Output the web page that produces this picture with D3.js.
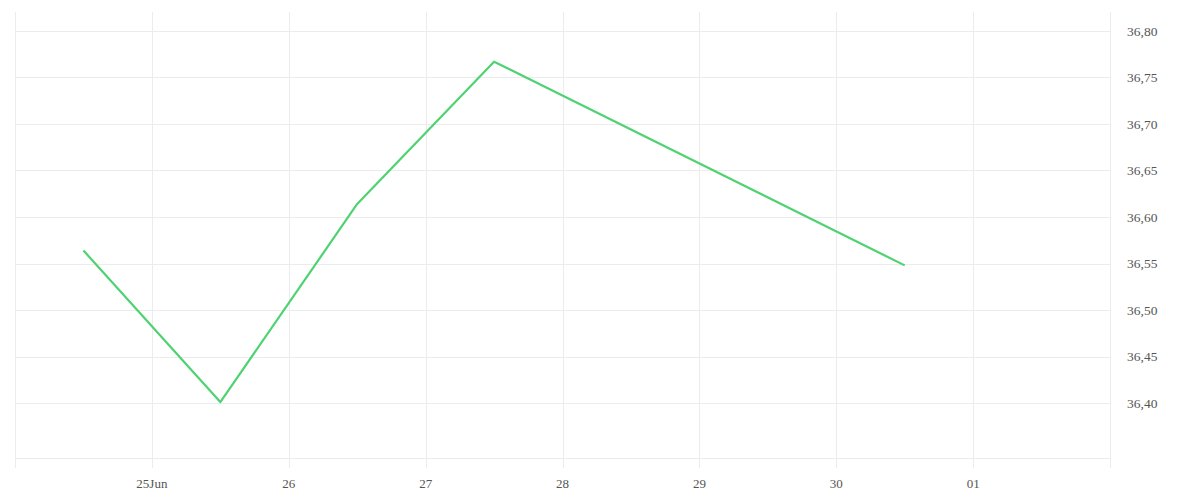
<!DOCTYPE html>
<html><head><meta charset="utf-8">
<script src="https://cdn.jsdelivr.net/npm/d3@7"></script>
<style>body{margin:0;background:#fff}svg{display:block}</style>
</head><body><svg id="c" width="1200" height="500"></svg>
<script>
const dates = ["2023-06-24T12:00","2023-06-25T12:00","2023-06-26T12:00","2023-06-27T12:00","2023-06-30T12:00"];
const values = [36.564, 36.401, 36.614, 36.767, 36.548];
const yTicks = [36.40, 36.45, 36.50, 36.55, 36.60, 36.65, 36.70, 36.75, 36.80];
const xTickDates = ["2023-06-25","2023-06-26","2023-06-27","2023-06-28","2023-06-29","2023-06-30","2023-07-01"];
const xTickLabels = ["25Jun","26","27","28","29","30","01"];

const parse = d3.timeParse("%Y-%m-%dT%H:%M");
const parseD = d3.timeParse("%Y-%m-%d");
const L=15,R=1110,T=12,B=458;
const x = d3.scaleTime().domain([parseD("2023-06-24"), parseD("2023-07-02")]).range([L,R]);
const y = d3.scaleLinear().domain([36.3409, 36.8204]).range([B,T]);
const svg = d3.select("#c");
const grid = "#ececec";

svg.append("g").selectAll("line").data(yTicks.concat([36.3409])).join("line")
  .attr("x1",L).attr("x2",R).attr("y1",d=>Math.round(y(d))+0.5).attr("y2",d=>Math.round(y(d))+0.5)
  .attr("stroke",grid).attr("stroke-width",1);
const xt = xTickDates.map(parseD);
svg.append("g").selectAll("line").data(xt).join("line")
  .attr("x1",d=>Math.round(x(d))+0.5).attr("x2",d=>Math.round(x(d))+0.5).attr("y1",T).attr("y2",468)
  .attr("stroke",grid);
[L,R].forEach(v=>svg.append("line").attr("x1",v+0.5).attr("x2",v+0.5).attr("y1",T).attr("y2",468).attr("stroke",grid));

svg.append("g").selectAll("text").data(xt).join("text")
  .attr("x",d=>x(d)).attr("y",488).attr("text-anchor","middle")
  .attr("font-family","Liberation Serif, serif").attr("font-size",13).attr("fill","#555")
  .text((d,i)=>xTickLabels[i]);
svg.append("g").selectAll("text").data(yTicks).join("text")
  .attr("x",1127).attr("y",d=>y(d)).attr("dy","0.35em")
  .attr("font-family","Liberation Serif, serif").attr("font-size",13.5).attr("fill","#555")
  .text(d=>d3.format(".2f")(d).replace(".",","));

const line = d3.line().x((d,i)=>x(parse(dates[i]))).y(d=>y(d));
svg.append("path").datum(values).attr("d",line).attr("fill","none")
  .attr("stroke","#4fd272").attr("stroke-width",2.2).attr("stroke-linejoin","round");
</script></body></html>
